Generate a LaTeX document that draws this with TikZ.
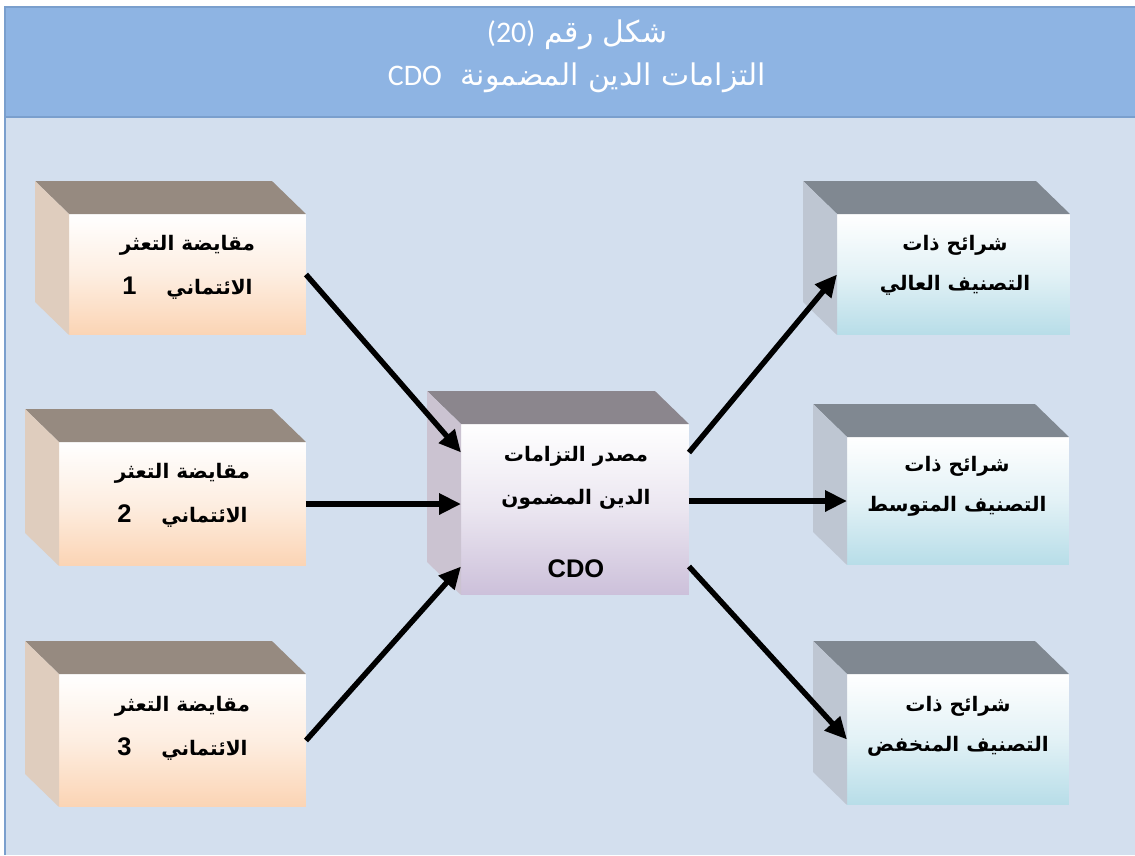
\documentclass[tikz,border=0pt]{standalone}
\usepackage{fontspec}
\usetikzlibrary{arrows.meta,calc}
\TeXXeTstate=1
\newfontfamily\arabicfont[Script=Arabic]{DejaVu Sans}
\newfontfamily\latinfont{Liberation Sans}
\newfontfamily\titlelatin{Carlito}
\newcommand\rl[1]{\beginR#1\endR}
\newcommand\lr[1]{\beginL#1\endL}
% bold Latin figures and letters inside the boxes
\newcommand\bignum[1]{{\latinfont\bfseries\fontsize{14.5}{25}\selectfont #1}}

\definecolor{framebg}{HTML}{D3DFEE}
\definecolor{bandbg}{HTML}{8EB4E3}
\definecolor{frameline}{HTML}{7A9FCD}
\definecolor{peachtop}{HTML}{968A80}
\definecolor{peachside}{HTML}{DFCDBE}
\definecolor{peachfront}{HTML}{FBD4B4}
\definecolor{lilactop}{HTML}{8B868D}
\definecolor{lilacside}{HTML}{CBC3D1}
\definecolor{lilacfront}{HTML}{CCC0DA}
\definecolor{aquatop}{HTML}{808891}
\definecolor{aquaside}{HTML}{BEC6D2}
\definecolor{aquafront}{HTML}{B7DDE8}

% top and left faces of a box whose front face is node #1
\newcommand\boxfaces[3]{%
  \fill[#2] (#1.north west) -- ++(-34,-33) -- ($(#1.north east)+(-34,-33)$) -- (#1.north east) -- cycle;
  \fill[#3] (#1.north west) -- ++(-34,-33) -- ($(#1.south west)+(-34,-33)$) -- (#1.south west) -- cycle;
}

\tikzset{
  front/.style={rectangle, inner sep=0pt, outer sep=0pt, draw=none,
    top color=white, bottom color=#1, middle color=#1!40},
  boxtext/.style={align=center, inner sep=0pt,
    font=\arabicfont\bfseries\fontsize{11.4}{25}\selectfont},
  tiertext/.style={boxtext, font=\arabicfont\bfseries\fontsize{11.4}{22.8}\selectfont},
  titletext/.style={align=center, inner sep=0pt, text=white,
    font=\arabicfont\fontsize{17}{24.5}\selectfont},
  conn/.style={line width=3.1pt, -{Triangle[length=12.5pt,width=11.5pt]}},
}

\begin{document}
\begin{tikzpicture}[x=0.02cm,y=-0.02cm]
\useasboundingbox (0,0) rectangle (1135,855);
\fill[white] (0,0) rectangle (1135,855);

% frame and title band
\fill[framebg] (5,117) rectangle (1135,855);
\fill[bandbg] (5,7) rectangle (1135,117);
\draw[frameline, line width=1.2pt] (5,117) -- (1135,117);
\draw[frameline, line width=1.3pt] (1135,7) -- (5,7) -- (5,855);

\node[titletext] (title) at (577,56)
  {\rl{شكل رقم \lr{{\titlelatin(20)}}}\\
   \rl{التزامات الدين المضمونة\ \ \lr{{\titlelatin CDO}}}};

% front faces
\node[front=peachfront, minimum width=4.74cm, minimum height=2.42cm] (L1) at (187.5,274.5) {};
\node[front=peachfront, minimum width=4.94cm, minimum height=2.48cm] (L2) at (182.5,504) {};
\node[front=peachfront, minimum width=4.94cm, minimum height=2.66cm] (L3) at (182.5,740.5) {};
\node[front=lilacfront, minimum width=4.56cm, minimum height=3.42cm] (C) at (575,509.5) {};
\node[front=aquafront, minimum width=4.66cm, minimum height=2.42cm] (R1) at (953.5,274.5) {};
\node[front=aquafront, minimum width=4.44cm, minimum height=2.56cm] (R2) at (958,501) {};
\node[front=aquafront, minimum width=4.44cm, minimum height=2.62cm] (R3) at (958,739.5) {};

% depth faces
\boxfaces{L1}{peachtop}{peachside}
\boxfaces{L2}{peachtop}{peachside}
\boxfaces{L3}{peachtop}{peachside}
\boxfaces{C}{lilactop}{lilacside}
\boxfaces{R1}{aquatop}{aquaside}
\boxfaces{R2}{aquatop}{aquaside}
\boxfaces{R3}{aquatop}{aquaside}

% labels
\node[boxtext] (L1t) at (187.5,267)
  {\rl{مقايضة التعثر}\\ \rl{الائتماني\hspace{17pt}\lr{\bignum{1}}}};
\node[boxtext] (L2t) at (182.5,495.5)
  {\rl{مقايضة التعثر}\\ \rl{الائتماني\hspace{17pt}\lr{\bignum{2}}}};
\node[boxtext] (L3t) at (182.5,728.5)
  {\rl{مقايضة التعثر}\\ \rl{الائتماني\hspace{17pt}\lr{\bignum{3}}}};
\node[boxtext] (Ct) at (576,512)
  {\rl{مصدر التزامات}\\ \rl{الدين المضمون}\\[16.5pt] \bignum{CDO}};
\node[tiertext] (R1t) at (955,265.5)
  {\rl{شرائح ذات}\\ \rl{التصنيف العالي}};
\node[tiertext] (R2t) at (957,486)
  {\rl{شرائح ذات}\\ \rl{التصنيف المتوسط}};
\node[tiertext] (R3t) at (958,726)
  {\rl{شرائح ذات}\\ \rl{التصنيف المنخفض}};

% connectors
\draw[conn] (L1.east) -- ([yshift=1.14cm]C.west);
\draw[conn] (L2.east) -- (C.west |- L2.east);
\draw[conn] (L3.east) -- ([yshift=-1.14cm]C.west);
\draw[conn] ([yshift=1.14cm]C.east) -- (R1.west);
\draw[conn] (C.east |- R2.west) -- (R2.west);
\draw[conn] ([yshift=-1.14cm]C.east) -- (R3.west);
\end{tikzpicture}
\end{document}
